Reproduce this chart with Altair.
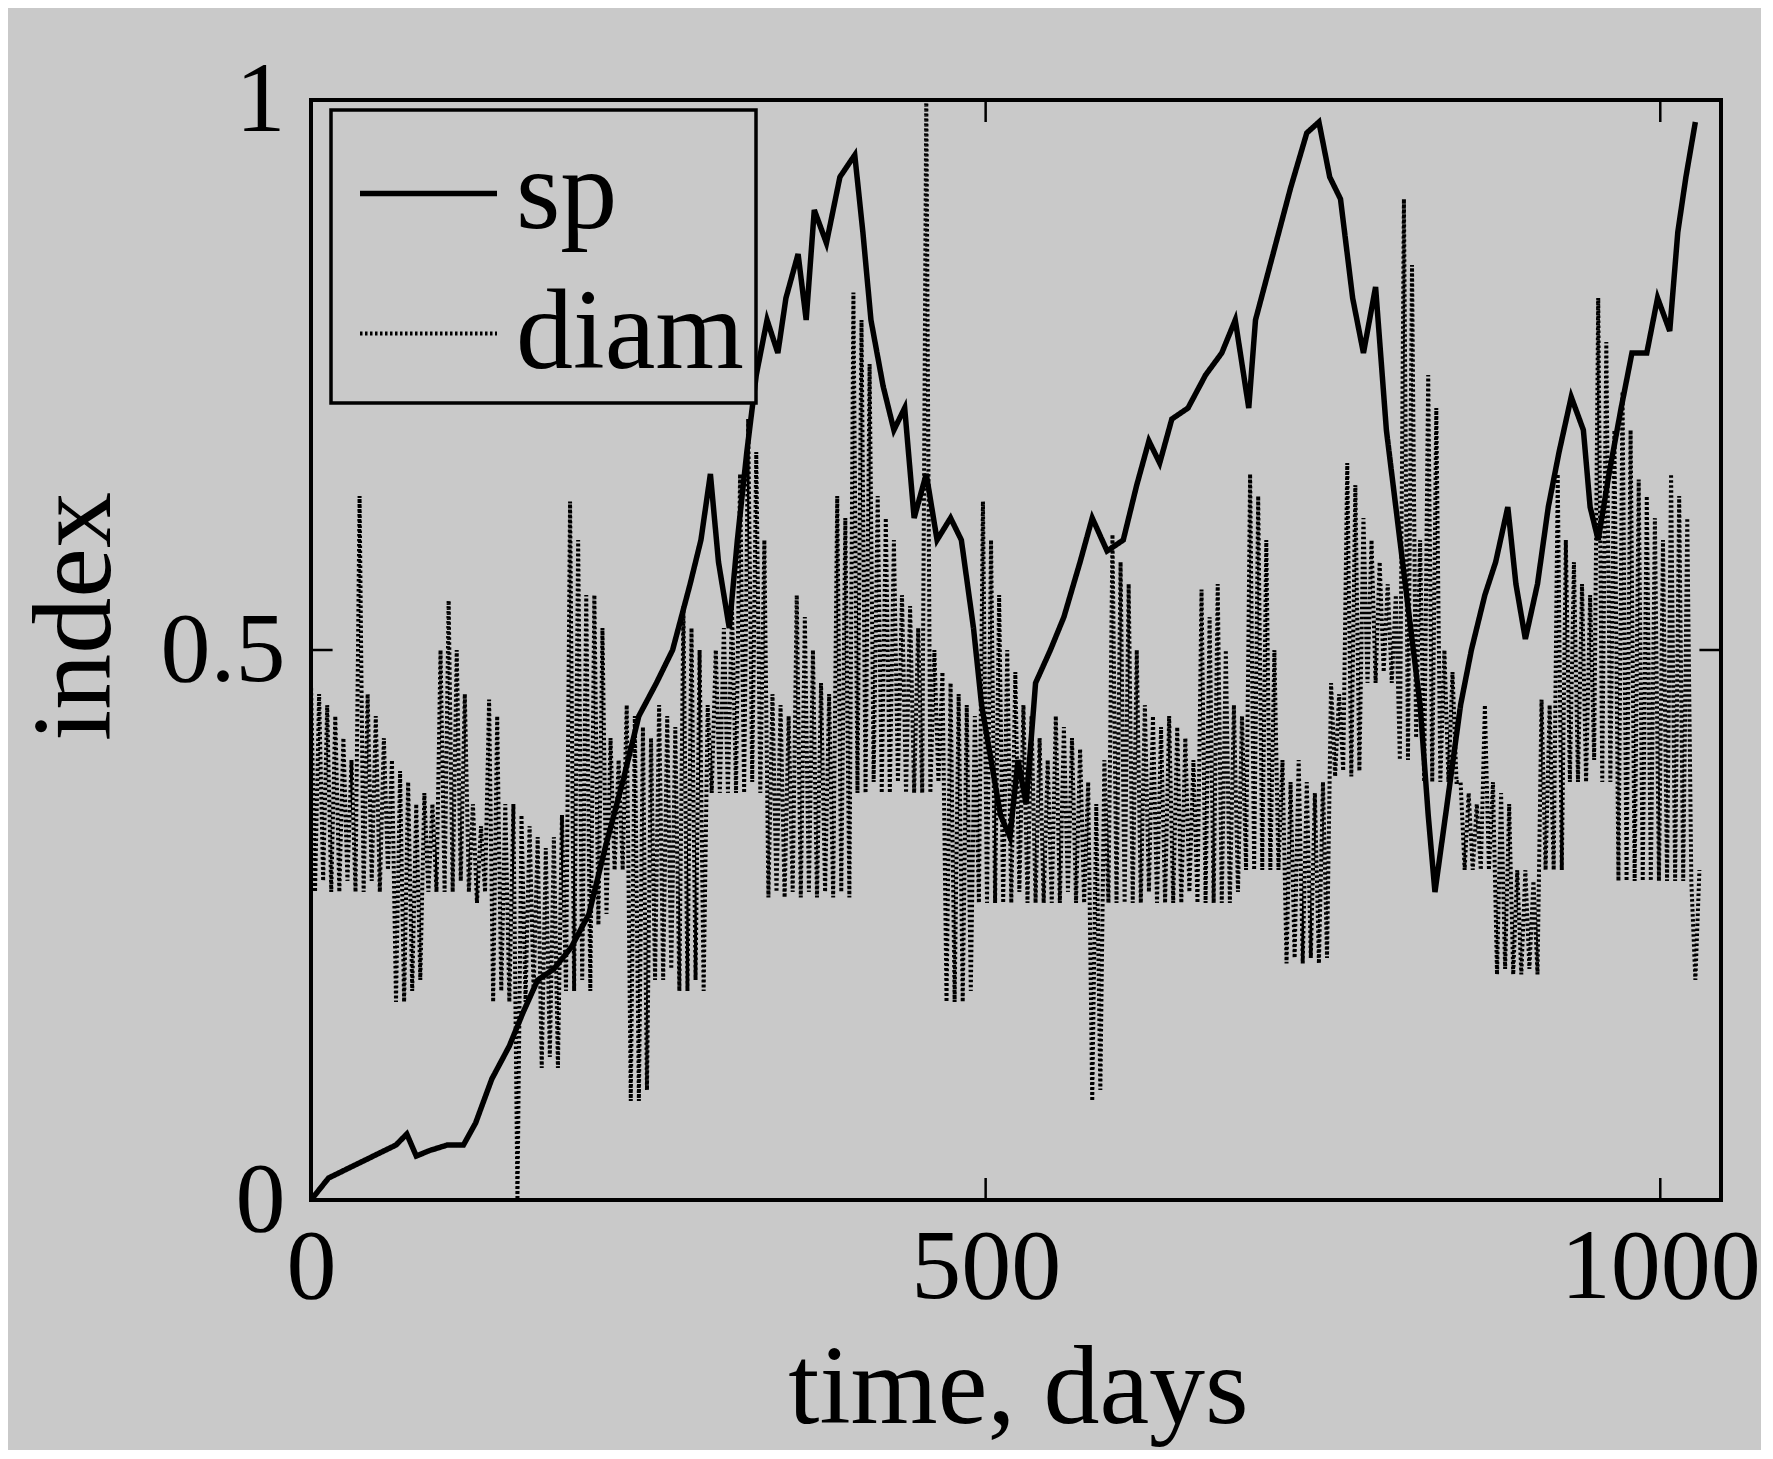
import altair as alt
import pandas as pd

# ---- data ----
sp_days = [0, 13, 38, 63, 71, 78, 88, 101, 113, 122, 134, 147, 157, 168, 180, 193,
           206, 218, 231, 243, 256, 268, 281, 289, 296, 302, 310, 316, 323, 330,
           338, 346, 352, 361, 367, 373, 382, 392, 403, 409, 415, 424, 432, 440,
           447, 456, 464, 474, 482, 491, 497, 504, 511, 518, 524, 530, 537, 548,
           558, 570, 579, 590, 602, 612, 621, 629, 638, 650, 663, 675, 685, 695,
           700, 713, 726, 738, 747, 755, 763, 772, 780, 789, 797, 805, 814, 822,
           828, 833, 842, 852, 860, 870, 878, 887, 893, 900, 909, 917, 925, 934,
           943, 948, 954, 962, 971, 979, 990, 998, 1007, 1013, 1019, 1026]
sp_vals = [0.0, 0.02, 0.035, 0.05, 0.06, 0.04, 0.045, 0.05, 0.05, 0.07, 0.11, 0.14,
           0.17, 0.2, 0.21, 0.23, 0.26, 0.32, 0.38, 0.44, 0.47, 0.5, 0.56, 0.6,
           0.66, 0.58, 0.52, 0.6, 0.68, 0.75, 0.8, 0.77, 0.82, 0.86, 0.8, 0.9,
           0.87, 0.93, 0.95, 0.88, 0.8, 0.74, 0.7, 0.72, 0.62, 0.66, 0.6, 0.62,
           0.6, 0.52, 0.45, 0.4, 0.35, 0.33, 0.4, 0.36, 0.47, 0.5, 0.53, 0.58,
           0.62, 0.59, 0.6, 0.65, 0.69, 0.67, 0.71, 0.72, 0.75, 0.77, 0.8, 0.72,
           0.8, 0.86, 0.92, 0.97, 0.98, 0.93, 0.91, 0.82, 0.77, 0.83, 0.7, 0.62,
           0.53, 0.45, 0.35, 0.28, 0.36, 0.45, 0.5, 0.55, 0.58, 0.63, 0.56, 0.51,
           0.56, 0.63, 0.68, 0.73, 0.7, 0.63, 0.6, 0.66, 0.72, 0.77, 0.77, 0.82,
           0.79, 0.88, 0.93, 0.98]

# diam: one reading every 3 days, from day 0 to day 1029
diam_vals = [
    0.47, 0.28, 0.46, 0.29, 0.45, 0.28, 0.44, 0.28, 0.42, 0.29,
    0.40, 0.28, 0.64, 0.28, 0.46, 0.29, 0.44, 0.28, 0.42, 0.30,
    0.40, 0.18, 0.39, 0.18, 0.38, 0.19, 0.36, 0.20, 0.37, 0.28,
    0.36, 0.28, 0.50, 0.28, 0.545, 0.28, 0.50, 0.29, 0.46, 0.28,
    0.36, 0.27, 0.34, 0.28, 0.455, 0.18, 0.44, 0.19, 0.36, 0.18,
    0.36, 0.0, 0.35, 0.18, 0.34, 0.19, 0.33, 0.12, 0.32, 0.13,
    0.33, 0.12, 0.35, 0.19, 0.635, 0.19, 0.60, 0.20, 0.55, 0.19,
    0.55, 0.25, 0.52, 0.26, 0.42, 0.30, 0.40, 0.30, 0.45, 0.09,
    0.44, 0.09, 0.43, 0.10, 0.42, 0.20, 0.45, 0.20, 0.44, 0.21,
    0.43, 0.19, 0.54, 0.19, 0.52, 0.20, 0.50, 0.19, 0.45, 0.37,
    0.50, 0.37, 0.52, 0.37, 0.54, 0.37, 0.66, 0.37, 0.71, 0.38,
    0.68, 0.37, 0.60, 0.275, 0.46, 0.28, 0.45, 0.275, 0.44, 0.28,
    0.55, 0.275, 0.53, 0.28, 0.50, 0.275, 0.47, 0.28, 0.46, 0.275,
    0.64, 0.28, 0.62, 0.275, 0.825, 0.37, 0.80, 0.37, 0.76, 0.38,
    0.64, 0.37, 0.62, 0.37, 0.60, 0.38, 0.55, 0.37, 0.54, 0.37,
    0.52, 0.37, 1.0, 0.37, 0.50, 0.38, 0.48, 0.18, 0.47, 0.18,
    0.46, 0.18, 0.45, 0.19, 0.44, 0.27, 0.635, 0.27, 0.60, 0.27,
    0.55, 0.27, 0.50, 0.27, 0.48, 0.28, 0.45, 0.27, 0.44, 0.27,
    0.42, 0.27, 0.40, 0.27, 0.44, 0.27, 0.43, 0.28, 0.42, 0.27,
    0.41, 0.27, 0.38, 0.09, 0.36, 0.10, 0.40, 0.27, 0.605, 0.27,
    0.58, 0.27, 0.56, 0.27, 0.50, 0.27, 0.45, 0.28, 0.44, 0.27,
    0.43, 0.27, 0.44, 0.27, 0.43, 0.27, 0.42, 0.28, 0.40, 0.27,
    0.555, 0.27, 0.53, 0.27, 0.56, 0.27, 0.50, 0.27, 0.45, 0.28,
    0.44, 0.30, 0.66, 0.30, 0.64, 0.30, 0.60, 0.30, 0.50, 0.30,
    0.40, 0.215, 0.38, 0.22, 0.40, 0.215, 0.38, 0.22, 0.37, 0.215,
    0.38, 0.22, 0.47, 0.385, 0.46, 0.39, 0.67, 0.385, 0.65, 0.39,
    0.62, 0.47, 0.60, 0.47, 0.58, 0.48, 0.56, 0.47, 0.55, 0.40,
    0.91, 0.40, 0.85, 0.42, 0.60, 0.38, 0.75, 0.38, 0.72, 0.38,
    0.50, 0.38, 0.48, 0.38, 0.38, 0.30, 0.37, 0.30, 0.36, 0.30,
    0.45, 0.30, 0.38, 0.205, 0.37, 0.21, 0.36, 0.205, 0.30, 0.205,
    0.30, 0.21, 0.29, 0.205, 0.455, 0.30, 0.45, 0.30, 0.66, 0.30,
    0.60, 0.38, 0.58, 0.38, 0.56, 0.38, 0.55, 0.40, 0.82, 0.38,
    0.78, 0.38, 0.70, 0.29, 0.735, 0.29, 0.70, 0.29, 0.655, 0.29,
    0.64, 0.29, 0.62, 0.29, 0.60, 0.29, 0.66, 0.29, 0.64, 0.29,
    0.62, 0.29, 0.20, 0.30,
]
diam_days = list(range(0, 3 * len(diam_vals), 3))

x_ticks = [0, 500, 1000]
y_ticks = [0, 0.5, 1]
series_names = ["sp", "diam"]

X_MAX = 1045
BG = "#c9c9c9"
FONT = "Liberation Serif"

rows = [{"day": d, "value": v, "series": "sp"} for d, v in zip(sp_days, sp_vals)]
rows += [{"day": d, "value": v, "series": "diam"} for d, v in zip(diam_days, diam_vals)]
df = pd.DataFrame(rows)

xs = alt.Scale(domain=[0, X_MAX], nice=False, zero=False)
ys = alt.Scale(domain=[0, 1], nice=False)

lines = alt.Chart(df).mark_line(color="black", strokeCap="butt").encode(
    x=alt.X("day:Q", scale=xs,
            axis=alt.Axis(values=x_ticks, title="time, days", format="d",
                          labelFlush=False, labelPadding=18,
                          titleX=707, titleY=222, titleBaseline="alphabetic",
                          titleFontSize=112)),
    y=alt.Y("value:Q", scale=ys,
            axis=alt.Axis(values=y_ticks, title="index", format="~g",
                          labelPadding=26, labelFlush=False,
                          titleX=-236, titleY=516, titleAngle=-90,
                          titleBaseline="middle", titleFontSize=112)),
    strokeDash=alt.StrokeDash("series:N",
                              scale=alt.Scale(domain=series_names,
                                              range=[[1, 0], [2.5, 2.5]]),
                              sort=series_names,
                              legend=alt.Legend(title=None, orient="none",
                                                legendX=20, legendY=10)),
    strokeWidth=alt.StrokeWidth("series:N",
                                scale=alt.Scale(domain=series_names, range=[5.5, 4]),
                                legend=None),
    order=alt.Order("day:Q"),
)

# inward tick marks (MATLAB style box axes)
tick_len_x = 16.0
tick_len_y = 0.02
tdf = pd.DataFrame(
    [{"x": t, "x2": t, "y": 0, "y2": tick_len_y} for t in x_ticks]
    + [{"x": t, "x2": t, "y": 1, "y2": 1 - tick_len_y} for t in x_ticks]
    + [{"x": 0, "x2": tick_len_x, "y": t, "y2": t} for t in y_ticks]
    + [{"x": X_MAX, "x2": X_MAX - tick_len_x, "y": t, "y2": t} for t in y_ticks]
)
ticks = alt.Chart(tdf).mark_rule(color="black", strokeWidth=2.5).encode(
    x=alt.X("x:Q", scale=xs), x2="x2:Q",
    y=alt.Y("y:Q", scale=ys), y2="y2:Q",
)

chart = alt.layer(lines, ticks).properties(
    width=1410, height=1100,
    autosize=alt.AutoSizeParams(type="none"),
    padding={"left": 303, "top": 92, "right": 40, "bottom": 250},
    background=BG,
).configure_view(
    stroke="black", strokeWidth=4, fill=BG,
).configure_axis(
    domain=False, ticks=False, grid=False,
    labelFont=FONT, labelFontSize=100, labelColor="black", labelLimit=600,
    titleFont=FONT, titleColor="black", titleFontWeight="normal",
).configure_legend(
    labelFont=FONT, labelFontSize=114, labelColor="black", labelLimit=600,
    symbolType="stroke", symbolSize=18769, symbolStrokeWidth=3.5,
    symbolStrokeColor="black", symbolOffset=14,
    strokeColor="black", strokeWidth=3.5, fillColor=BG, padding=12,
    rowPadding=12, labelOffset=16, cornerRadius=0,
)

chart.save("out.html", embed_options={"renderer": "svg", "actions": False})
